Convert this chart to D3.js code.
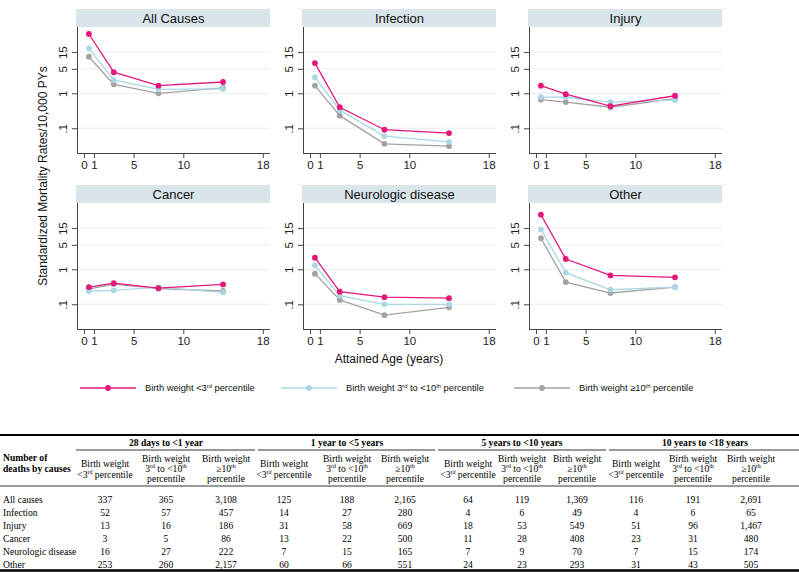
<!DOCTYPE html>
<html><head><meta charset="utf-8">
<script src="https://cdn.jsdelivr.net/npm/d3@7/dist/d3.min.js"></script>
<style>body{margin:0;background:#fff}svg{display:block}</style>
</head><body>
<script>
// ---------------- DATA ----------------
const causes = ["All Causes", "Infection", "Injury", "Cancer", "Neurologic disease", "Other"];
const ages = [0.5, 3, 7.5, 14];
const xTicks = [0, 1, 5, 10, 18];
const yTicks = [0.1, 1, 5, 15];
const yTickLabels = [".1", "1", "5", "15"];
const seriesNames = ["Birth weight <3rd percentile", "Birth weight 3rd to <10th percentile", "Birth weight \u226510th percentile"];
// rates per 10,000 PYs, one row per cause, one value per attained age
const ratesBelow3 = [
  [49.5, 4.0, 1.65, 2.1],
  [7.3, 0.40, 0.091, 0.073],
  [1.65, 0.94, 0.43, 0.85],
  [0.31, 0.40, 0.29, 0.37],
  [2.14, 0.23, 0.16, 0.15],
  [36.3, 1.97, 0.67, 0.59]
];
const rates3to10 = [
  [19.3, 2.4, 1.3, 1.33],
  [2.87, 0.33, 0.06, 0.041],
  [0.78, 0.77, 0.56, 0.64],
  [0.24, 0.25, 0.31, 0.22],
  [1.3, 0.176, 0.10, 0.10],
  [13.9, 0.80, 0.26, 0.31]
];
const ratesAbove10 = [
  [11.1, 1.8, 1.0, 1.42],
  [1.65, 0.23, 0.036, 0.031],
  [0.66, 0.56, 0.40, 0.70],
  [0.27, 0.38, 0.28, 0.24],
  [0.75, 0.133, 0.049, 0.082],
  [7.7, 0.43, 0.21, 0.31]
];
// table
const tableGroups = ["28 days to <1 year", "1 year to <5 years", "5 years to <10 years", "10 years to <18 years"];
const tableRowLabels = ["All causes", "Infection", "Injury", "Cancer", "Neurologic disease", "Other"];
const tableCounts = [
  ["337", "365", "3,108", "125", "188", "2,165", "64", "119", "1,369", "116", "191", "2,691"],
  ["52", "57", "457", "14", "27", "280", "4", "6", "49", "4", "6", "65"],
  ["13", "16", "186", "31", "58", "669", "18", "53", "549", "51", "96", "1,467"],
  ["3", "5", "86", "13", "22", "500", "11", "28", "408", "23", "31", "480"],
  ["16", "27", "222", "7", "15", "165", "7", "9", "70", "7", "15", "174"],
  ["253", "260", "2,157", "60", "66", "551", "24", "23", "293", "31", "43", "505"]
];

// ---------------- LAYOUT ----------------
const W = 799, H = 572;
const colors = ["#e5177b", "#abd7e5", "#a2a2a2"];
const sansFont = "'Liberation Sans', Arial, Helvetica, sans-serif";
const serifFont = "'Liberation Serif', 'Times New Roman', serif";

const svg = d3.select("body").append("svg").attr("width", W).attr("height", H);
svg.append("rect").attr("width", W).attr("height", H).attr("fill", "#fff");

const panelW = 193, colStep = 226, rowStep = 176;
const plotTop = 27, plotBottom = 153, headerTop = 9, headerH = 18;

const x = d3.scaleLinear().domain([-0.7, 18.73]).range([0, panelW]);
const y = d3.scaleLog().domain([0.01968, 78.4]).range([plotBottom - plotTop, 0]);

const allSeries = [ratesBelow3, rates3to10, ratesAbove10];

causes.forEach((cause, i) => {
  const col = i % 3, row = Math.floor(i / 3);
  const ox = 77 + col * colStep, oy = row * rowStep;
  const g = svg.append("g").attr("transform", `translate(${ox},${oy + plotTop})`);

  svg.append("rect").attr("x", ox - 1).attr("y", oy + headerTop).attr("width", panelW + 1).attr("height", headerH)
    .attr("fill", "#d9e5eb");
  svg.append("text").attr("x", ox + panelW / 2).attr("y", oy + headerTop + 13.5)
    .attr("text-anchor", "middle").attr("font-family", sansFont).attr("font-size", 13).attr("fill", "#111")
    .text(cause);

  g.selectAll(".grid").data(yTicks).enter().append("line")
    .attr("x1", 0).attr("x2", panelW).attr("y1", d => y(d)).attr("y2", d => y(d))
    .attr("stroke", "#e6eff2").attr("stroke-width", 1);

  const yAxis = d3.axisLeft(y).tickValues(yTicks).tickFormat((d, k) => yTickLabels[k]).tickSize(5).tickPadding(3);
  const ya = g.append("g").call(yAxis);
  ya.select(".domain").attr("d", `M0.5,0V${plotBottom - plotTop}`).attr("stroke", "#444");
  ya.selectAll(".tick line").attr("stroke", "#444");
  ya.selectAll(".tick text").attr("font-family", sansFont).attr("font-size", 11.5).attr("fill", "#222")
    .attr("transform", "rotate(-90)").attr("x", 0).attr("y", -10).attr("dy", 0).attr("text-anchor", "middle");

  const xAxis = d3.axisBottom(x).tickValues(xTicks).tickFormat(d3.format("d")).tickSize(5).tickPadding(3);
  const xa = g.append("g").attr("transform", `translate(0,${plotBottom - plotTop})`).call(xAxis);
  xa.select(".domain").attr("d", `M0,0.5H${panelW}`).attr("stroke", "#444");
  xa.selectAll(".tick line").attr("stroke", "#444");
  xa.selectAll(".tick text").attr("font-family", sansFont).attr("font-size", 11.5).attr("fill", "#222");

  const line = d3.line().x((d, k) => x(ages[k])).y(d => y(d));
  [2, 1, 0].forEach(s => {
    const vals = allSeries[s][i];
    g.append("path").attr("d", line(vals)).attr("fill", "none").attr("stroke", colors[s]).attr("stroke-width", 1.3);
    g.selectAll(".pt" + s).data(vals).enter().append("circle")
      .attr("cx", (d, k) => x(ages[k])).attr("cy", d => y(d)).attr("r", 2.9).attr("fill", colors[s]);
  });
});

svg.append("text").attr("transform", "translate(47,176) rotate(-90)").attr("text-anchor", "middle")
  .attr("font-family", sansFont).attr("font-size", 12).attr("fill", "#111")
  .text("Standardized Mortality Rates/10,000 PYs");
svg.append("text").attr("x", 389).attr("y", 363).attr("text-anchor", "middle")
  .attr("font-family", sansFont).attr("font-size", 12).attr("fill", "#111")
  .text("Attained Age (years)");

// superscript helper: raised part shifts up, following part shifts back
function supText(sel, parts, size) {
  let raised = false;
  parts.forEach(p => {
    const ts = sel.append("tspan").text(p.t);
    if (p.sup) {
      ts.attr("font-size", size * 0.62).attr("dy", -size * 0.38);
      raised = true;
    } else if (raised) {
      ts.attr("dy", size * 0.38);
      raised = false;
    }
  });
}

const legendX = [80, 281, 514];
const legendY = 388;
const legendParts = [
  [{t: "Birth weight <3"}, {t: "rd", sup: true}, {t: " percentile"}],
  [{t: "Birth weight 3"}, {t: "rd", sup: true}, {t: " to <10"}, {t: "th", sup: true}, {t: " percentile"}],
  [{t: "Birth weight \u226510"}, {t: "th", sup: true}, {t: " percentile"}]
];
seriesNames.forEach((nm, s) => {
  const lx = legendX[s];
  svg.append("line").attr("x1", lx).attr("x2", lx + 56).attr("y1", legendY).attr("y2", legendY)
    .attr("stroke", colors[s]).attr("stroke-width", 1.3);
  svg.append("circle").attr("cx", lx + 28).attr("cy", legendY).attr("r", 2.9).attr("fill", colors[s]);
  const t = svg.append("text").attr("x", lx + 65).attr("y", legendY + 3.3)
    .attr("font-family", sansFont).attr("font-size", 9.3).attr("fill", "#111");
  supText(t, legendParts[s], 9.3);
});

// ---------------- TABLE ----------------
const colCenters = [105, 166, 226, 284, 347, 405, 468, 522, 577, 636, 693, 751];
const groupExtents = [[76, 255], [258, 435], [438, 606], [609, 799]];
const tfs = 9.6;
const tbl = svg.append("g").attr("font-family", serifFont).attr("font-size", tfs).attr("fill", "#000");

tbl.append("line").attr("x1", 0).attr("x2", W).attr("y1", 435).attr("y2", 435).attr("stroke", "#000").attr("stroke-width", 2);
tbl.append("line").attr("x1", 0).attr("x2", W).attr("y1", 486).attr("y2", 486).attr("stroke", "#000").attr("stroke-width", 0.8);
tbl.append("line").attr("x1", 0).attr("x2", W).attr("y1", 570.5).attr("y2", 570.5).attr("stroke", "#000").attr("stroke-width", 2.5);

tableGroups.forEach((gname, k) => {
  const [a, b] = groupExtents[k];
  tbl.append("line").attr("x1", a).attr("x2", b).attr("y1", 450).attr("y2", 450).attr("stroke", "#000").attr("stroke-width", 0.8);
  const cx = k === 3 ? 705 : colCenters[k * 3 + 1];
  tbl.append("text").attr("x", cx).attr("y", 446).attr("text-anchor", "middle").attr("font-weight", "bold").text(gname);
});

tbl.append("text").attr("x", 3).attr("y", 461).attr("font-weight", "bold").text("Number of");
tbl.append("text").attr("x", 3).attr("y", 472).attr("font-weight", "bold").text("deaths by causes");

const subHeads = [
  [[{t: "Birth weight"}], [{t: "<3"}, {t: "rd", sup: true}, {t: " percentile"}]],
  [[{t: "Birth weight"}], [{t: "3"}, {t: "rd", sup: true}, {t: " to <10"}, {t: "th", sup: true}], [{t: "percentile"}]],
  [[{t: "Birth weight"}], [{t: "\u226510"}, {t: "th", sup: true}], [{t: "percentile"}]]
];
colCenters.forEach((cx, c) => {
  const h = subHeads[c % 3];
  const ys = h.length === 2 ? [467, 478] : [462, 472, 482];
  h.forEach((parts, li) => {
    const t = tbl.append("text").attr("x", cx).attr("y", ys[li]).attr("text-anchor", "middle");
    supText(t, parts, tfs);
  });
});

const rowY = [502.5, 515.5, 528.5, 541.5, 555, 568];
tableRowLabels.forEach((lab, r) => {
  tbl.append("text").attr("x", 3).attr("y", rowY[r]).text(lab);
  tableCounts[r].forEach((v, c) => {
    tbl.append("text").attr("x", colCenters[c]).attr("y", rowY[r]).attr("text-anchor", "middle").text(v);
  });
});
</script>
</body></html>
